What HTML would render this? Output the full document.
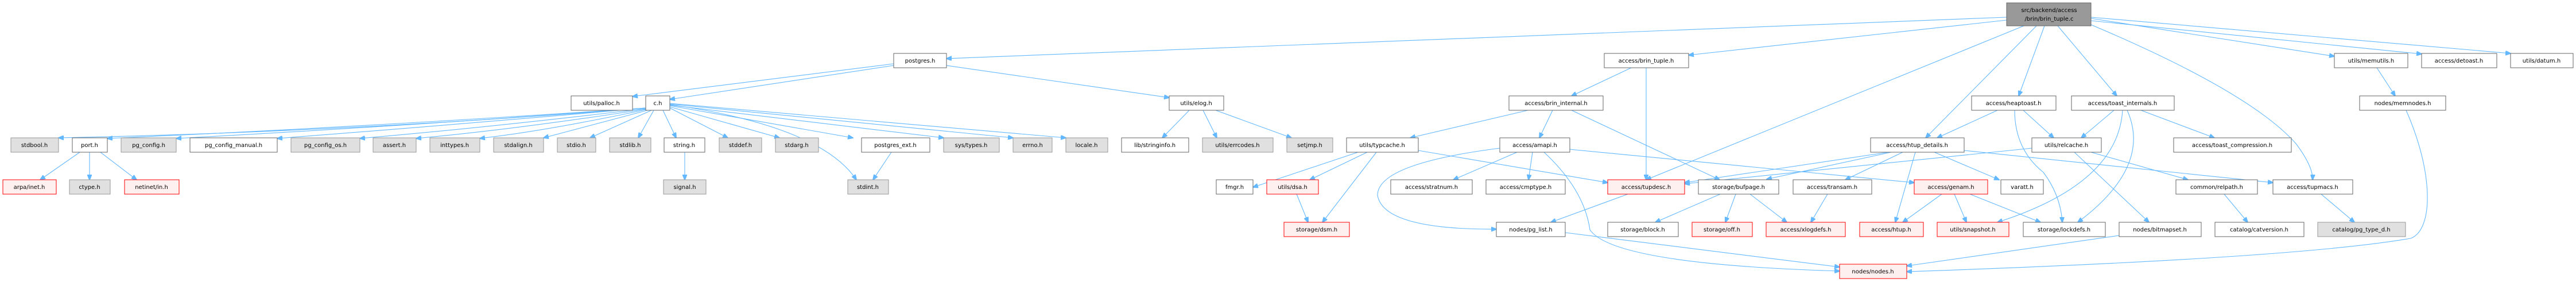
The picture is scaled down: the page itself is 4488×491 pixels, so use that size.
<!DOCTYPE html>
<html><head><meta charset="utf-8"><style>
html,body{margin:0;padding:0;background:#fff;}
svg{display:block;}
text{font-family:"DejaVu Sans","Liberation Sans",sans-serif;font-size:10px;fill:#000;text-anchor:middle;}
.w{fill:#fff;stroke:#666;stroke-width:1;}
.g{fill:#e0e0e0;stroke:#999;stroke-width:1;}
.r{fill:#fff0f0;stroke:#f00;stroke-width:1;}
.t{fill:#999;stroke:#666;stroke-width:1;}
path{fill:none;stroke:#63b8ff;stroke-width:1.1;}
</style></head><body>
<svg width="4488" height="491" viewBox="0 0 4488 491" xmlns="http://www.w3.org/2000/svg">
<defs><marker id="a" markerWidth="10" markerHeight="8" refX="9" refY="4" orient="auto" markerUnits="userSpaceOnUse"><path d="M0,0 L10,4 L0,8 Z" style="fill:#63b8ff;stroke:#63b8ff"/></marker></defs>
<g marker-end="url(#a)">
<path d="M3496,30 L1649,102"/>
<path d="M3496,35 L2942,96"/>
<path d="M3526,45 L2868,313"/>
<path d="M3548,45 L3355,240"/>
<path d="M3562,45 L3517,167"/>
<path d="M3585,45 L3688,167"/>
<path d="M3643,32 L4067,98"/>
<path d="M3643,36 L4219,94"/>
<path d="M3643,30 L4374,93"/>
<path d="M3643,43 Q3920,160 4000,250 Q4030,290 4029,313"/>
<path d="M1557,111 L1102,168"/>
<path d="M1557,114 L1167,173"/>
<path d="M1649,114 L2037,170"/>
<path d="M1125,188 Q600,230 102,240"/>
<path d="M1125,188 Q620,222 187,241"/>
<path d="M1125,188 Q700,220 307,241"/>
<path d="M1125,188 Q760,220 483,241"/>
<path d="M1125,189 Q850,222 627,241"/>
<path d="M1125,190 Q900,225 725,241"/>
<path d="M1125,191 Q950,228 836,241"/>
<path d="M1128,192 L947,240"/>
<path d="M1135,192 L1028,240"/>
<path d="M1139,192 L1112,240"/>
<path d="M1155,192 L1178,240"/>
<path d="M1167,188 L1268,240"/>
<path d="M1167,186 L1358,240"/>
<path d="M1167,184 L1486,240"/>
<path d="M1167,183 L1644,240"/>
<path d="M1167,181 L1765,240"/>
<path d="M1167,180 L1857,240"/>
<path d="M1167,182 Q1430,220 1492,313"/>
<path d="M139,265 L70,313"/>
<path d="M156,265 L156,313"/>
<path d="M175,265 L238,313"/>
<path d="M1193,265 L1193,313"/>
<path d="M1553,265 L1521,313"/>
<path d="M2072,192 L2025,240"/>
<path d="M2096,192 L2120,240"/>
<path d="M2118,192 L2250,240"/>
<path d="M2842,118 L2738,167"/>
<path d="M2868,118 L2868,313"/>
<path d="M2662,192 L2457,240"/>
<path d="M2705,192 L2682,240"/>
<path d="M2738,192 L2996,313"/>
<path d="M2366,265 L2183,326"/>
<path d="M2382,265 L2282,313"/>
<path d="M2398,265 L2304,387"/>
<path d="M2471,262 L2801,318"/>
<path d="M2643,265 L2532,313"/>
<path d="M2670,265 L2663,313"/>
<path d="M2613,258 Q2400,285 2400,340 Q2410,400 2607,399"/>
<path d="M2690,265 Q2760,330 2770,400 Q2810,460 3205,472"/>
<path d="M2735,260 L3335,318"/>
<path d="M2259,338 L2279,387"/>
<path d="M2836,338 L2702,387"/>
<path d="M2997,338 L2884,387"/>
<path d="M3024,338 L3006,387"/>
<path d="M3049,338 L3113,387"/>
<path d="M3480,192 L3375,240"/>
<path d="M3525,192 L3578,240"/>
<path d="M3510,192 Q3510,260 3560,300 Q3590,340 3593,387"/>
<path d="M3683,192 L3626,240"/>
<path d="M3698,192 Q3690,320 3480,387"/>
<path d="M3706,192 Q3750,290 3620,387"/>
<path d="M3730,192 L3858,240"/>
<path d="M3290,265 L2935,318"/>
<path d="M3295,265 L3078,312"/>
<path d="M3315,265 L3215,313"/>
<path d="M3337,265 L3302,387"/>
<path d="M3370,265 L3483,313"/>
<path d="M3422,262 L3960,318"/>
<path d="M3540,258 L2935,320"/>
<path d="M3643,265 L3812,313"/>
<path d="M3614,265 L3744,387"/>
<path d="M3184,338 L3155,387"/>
<path d="M3383,338 L3315,387"/>
<path d="M3405,338 L3426,387"/>
<path d="M3432,338 L3555,387"/>
<path d="M3875,338 L3916,387"/>
<path d="M4044,338 L4102,387"/>
<path d="M2727,405 L3205,465"/>
<path d="M3692,410 L3322,463"/>
<path d="M4192,192 C4240,300 4240,400 4200,415 Q4000,450 3322,473"/>
<path d="M4141,118 L4173,167"/>
</g>
<rect class="t" x="3496" y="5" width="147" height="40"/><text x="3570" y="21">src/backend/access</text><text x="3570" y="36">/brin/brin_tuple.c</text>

<rect class="w" x="1557" y="93" width="92" height="25"/><text x="1603" y="109">postgres.h</text>
<rect class="w" x="2795" y="93" width="147" height="25"/><text x="2868" y="109">access/brin_tuple.h</text>
<rect class="w" x="4067" y="93" width="128" height="25"/><text x="4131" y="109">utils/memutils.h</text>
<rect class="w" x="4219" y="93" width="131" height="25"/><text x="4284" y="109">access/detoast.h</text>
<rect class="w" x="4374" y="93" width="109" height="25"/><text x="4428" y="109">utils/datum.h</text>

<rect class="w" x="995" y="167" width="107" height="25"/><text x="1048" y="183">utils/palloc.h</text>
<rect class="w" x="1125" y="167" width="42" height="25"/><text x="1146" y="183">c.h</text>
<rect class="w" x="2037" y="167" width="95" height="25"/><text x="2084" y="183">utils/elog.h</text>
<rect class="w" x="2629" y="167" width="164" height="25"/><text x="2711" y="183">access/brin_internal.h</text>
<rect class="w" x="3435" y="167" width="147" height="25"/><text x="3508" y="183">access/heaptoast.h</text>
<rect class="w" x="3609" y="167" width="179" height="25"/><text x="3698" y="183">access/toast_internals.h</text>
<rect class="w" x="4111" y="167" width="150" height="25"/><text x="4186" y="183">nodes/memnodes.h</text>

<rect class="g" x="19" y="240" width="83" height="25"/><text x="60" y="256">stdbool.h</text>
<rect class="w" x="126" y="240" width="61" height="25"/><text x="156" y="256">port.h</text>
<rect class="g" x="211" y="240" width="96" height="25"/><text x="259" y="256">pg_config.h</text>
<rect class="w" x="331" y="240" width="152" height="25"/><text x="407" y="256">pg_config_manual.h</text>
<rect class="g" x="507" y="240" width="120" height="25"/><text x="567" y="256">pg_config_os.h</text>
<rect class="g" x="650" y="240" width="75" height="25"/><text x="687" y="256">assert.h</text>
<rect class="g" x="749" y="240" width="87" height="25"/><text x="792" y="256">inttypes.h</text>
<rect class="g" x="860" y="240" width="87" height="25"/><text x="903" y="256">stdalign.h</text>
<rect class="g" x="971" y="240" width="67" height="25"/><text x="1004" y="256">stdio.h</text>
<rect class="g" x="1062" y="240" width="72" height="25"/><text x="1098" y="256">stdlib.h</text>
<rect class="w" x="1157" y="240" width="71" height="25"/><text x="1192" y="256">string.h</text>
<rect class="g" x="1253" y="240" width="74" height="25"/><text x="1290" y="256">stddef.h</text>
<rect class="g" x="1351" y="240" width="75" height="25"/><text x="1388" y="256">stdarg.h</text>
<rect class="w" x="1501" y="240" width="119" height="25"/><text x="1560" y="256">postgres_ext.h</text>
<rect class="g" x="1644" y="240" width="97" height="25"/><text x="1692" y="256">sys/types.h</text>
<rect class="g" x="1765" y="240" width="68" height="25"/><text x="1799" y="256">errno.h</text>
<rect class="g" x="1857" y="240" width="73" height="25"/><text x="1893" y="256">locale.h</text>
<rect class="w" x="1954" y="240" width="117" height="25"/><text x="2012" y="256">lib/stringinfo.h</text>
<rect class="g" x="2095" y="240" width="123" height="25"/><text x="2156" y="256">utils/errcodes.h</text>
<rect class="g" x="2242" y="240" width="80" height="25"/><text x="2282" y="256">setjmp.h</text>
<rect class="w" x="2346" y="240" width="125" height="25"/><text x="2408" y="256">utils/typcache.h</text>
<rect class="w" x="2613" y="240" width="122" height="25"/><text x="2674" y="256">access/amapi.h</text>
<rect class="w" x="3259" y="240" width="163" height="25"/><text x="3340" y="256">access/htup_details.h</text>
<rect class="w" x="3540" y="240" width="121" height="25"/><text x="3600" y="256">utils/relcache.h</text>
<rect class="w" x="3787" y="240" width="205" height="25"/><text x="3889" y="256">access/toast_compression.h</text>

<rect class="r" x="5" y="313" width="93" height="25"/><text x="51" y="329">arpa/inet.h</text>
<rect class="g" x="121" y="313" width="71" height="25"/><text x="156" y="329">ctype.h</text>
<rect class="r" x="217" y="313" width="95" height="25"/><text x="264" y="329">netinet/in.h</text>
<rect class="g" x="1156" y="313" width="74" height="25"/><text x="1193" y="329">signal.h</text>
<rect class="g" x="1477" y="313" width="71" height="25"/><text x="1512" y="329">stdint.h</text>
<rect class="w" x="2119" y="313" width="64" height="25"/><text x="2151" y="329">fmgr.h</text>
<rect class="r" x="2207" y="313" width="90" height="25"/><text x="2252" y="329">utils/dsa.h</text>
<rect class="w" x="2423" y="313" width="142" height="25"/><text x="2494" y="329">access/stratnum.h</text>
<rect class="w" x="2589" y="313" width="138" height="25"/><text x="2658" y="329">access/cmptype.h</text>
<rect class="r" x="2801" y="313" width="134" height="25"/><text x="2868" y="329">access/tupdesc.h</text>
<rect class="w" x="2959" y="313" width="140" height="25"/><text x="3029" y="329">storage/bufpage.h</text>
<rect class="w" x="3124" y="313" width="137" height="25"/><text x="3192" y="329">access/transam.h</text>
<rect class="r" x="3335" y="313" width="128" height="25"/><text x="3399" y="329">access/genam.h</text>
<rect class="w" x="3486" y="313" width="74" height="25"/><text x="3523" y="329">varatt.h</text>
<rect class="w" x="3791" y="313" width="142" height="25"/><text x="3862" y="329">common/relpath.h</text>
<rect class="w" x="3960" y="313" width="139" height="25"/><text x="4029" y="329">access/tupmacs.h</text>

<rect class="r" x="2237" y="387" width="114" height="25"/><text x="2294" y="403">storage/dsm.h</text>
<rect class="w" x="2607" y="387" width="120" height="25"/><text x="2667" y="403">nodes/pg_list.h</text>
<rect class="w" x="2801" y="387" width="123" height="25"/><text x="2862" y="403">storage/block.h</text>
<rect class="r" x="2948" y="387" width="105" height="25"/><text x="3000" y="403">storage/off.h</text>
<rect class="r" x="3077" y="387" width="138" height="25"/><text x="3146" y="403">access/xlogdefs.h</text>
<rect class="r" x="3240" y="387" width="111" height="25"/><text x="3295" y="403">access/htup.h</text>
<rect class="r" x="3375" y="387" width="125" height="25"/><text x="3437" y="403">utils/snapshot.h</text>
<rect class="w" x="3525" y="387" width="143" height="25"/><text x="3596" y="403">storage/lockdefs.h</text>
<rect class="w" x="3692" y="387" width="143" height="25"/><text x="3763" y="403">nodes/bitmapset.h</text>
<rect class="w" x="3859" y="387" width="155" height="25"/><text x="3936" y="403">catalog/catversion.h</text>
<rect class="g" x="4038" y="387" width="153" height="25"/><text x="4114" y="403">catalog/pg_type_d.h</text>

<rect class="r" x="3205" y="460" width="117" height="25"/><text x="3263" y="476">nodes/nodes.h</text>
</svg>
</body></html>
